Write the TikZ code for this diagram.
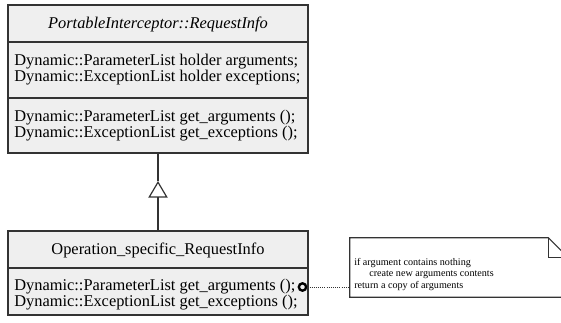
\documentclass[tikz,border=0pt]{standalone}
\usepackage{fontspec}
\setmainfont{Liberation Serif}
\usetikzlibrary{arrows.meta}
\definecolor{boxgray}{HTML}{EFEFEF}
\definecolor{edgegray}{HTML}{333333}
\begin{document}
\begin{tikzpicture}[x=0.75pt,y=-0.75pt,
  cls/.style={draw=edgegray, fill=boxgray, line width=0.9pt, inner sep=0pt},
  divider/.style={draw=edgegray, line width=0.9pt},
  member/.style={inner sep=0pt, anchor=base west, font=\fontsize{12.3}{11}\selectfont},
  title/.style={inner sep=0pt, anchor=base, font=\fontsize{12.3}{11}\selectfont},
  notetext/.style={inner sep=0pt, anchor=base west, font=\fontsize{7.6}{8.6}\selectfont},
  conn/.style={draw=edgegray, line width=0.9pt}]
\useasboundingbox (0,0) rectangle (561,322);

% superclass
\node[cls, minimum width=225pt, minimum height=111pt] (A) at (158,79) {};
\draw[divider] (A.west |- 0,42) -- (A.east |- 0,42);
\draw[divider] (A.west |- 0,98) -- (A.east |- 0,98);
\node[title, font=\fontsize{12.3}{11}\itshape] (At) at (158,28) {PortableInterceptor::RequestInfo};
\node[member] (A1) at (14,65.5) {Dynamic::ParameterList holder arguments;};
\node[member] (A2) at (14,81.5) {Dynamic::ExceptionList holder exceptions;};
\node[member] (A3) at (14,121.5) {Dynamic::ParameterList get\_arguments ();};
\node[member] (A4) at (14,137.5) {Dynamic::ExceptionList get\_exceptions ();};

% subclass
\node[cls, minimum width=225pt, minimum height=63pt] (B) at (158,273) {};
\draw[divider] (B.west |- 0,268) -- (B.east |- 0,268);
\node[title] (Bt) at (158,254) {Operation\_specific\_RequestInfo};
\node[member] (B1) at (14,290.5) {Dynamic::ParameterList get\_arguments ();};
\node[member] (B2) at (14,306.5) {Dynamic::ExceptionList get\_exceptions ();};

% generalization
\coordinate (apex) at (158,181);
\draw[conn] (A.south) -- (apex);
\draw[conn, -{Triangle[open, length=12.5pt, width=14.5pt, line width=0.9pt]}] (B.north) -- (apex);

% note
\node[inner sep=0pt, minimum width=163.5pt, minimum height=44.25pt] (N) at (459,267.5) {};
\draw[draw=edgegray, line width=0.8pt, fill=white]
  (N.north west) -- ([xshift=-15pt]N.north east) -- ([yshift=-15pt]N.north east)
  -- (N.south east) -- (N.south west) -- cycle;
\draw[draw=edgegray, line width=0.8pt]
  ([xshift=-15pt]N.north east) -- ([xshift=-15pt,yshift=-15pt]N.north east) -- ([yshift=-15pt]N.north east);
\node[notetext] (N1) at (354,265) {if argument contains nothing};
\node[notetext] (N2) at (369,276.5) {create new arguments contents};
\node[notetext] (N3) at (354,288) {return a copy of arguments};

% note anchor
\node[circle, draw=black, line width=1.8pt, inner sep=0pt, minimum size=5.5pt] (C) at (302.5,287) {};
\draw[draw=edgegray, densely dotted, line width=0.6pt] (C) -- (N.west |- C);
\end{tikzpicture}
\end{document}
